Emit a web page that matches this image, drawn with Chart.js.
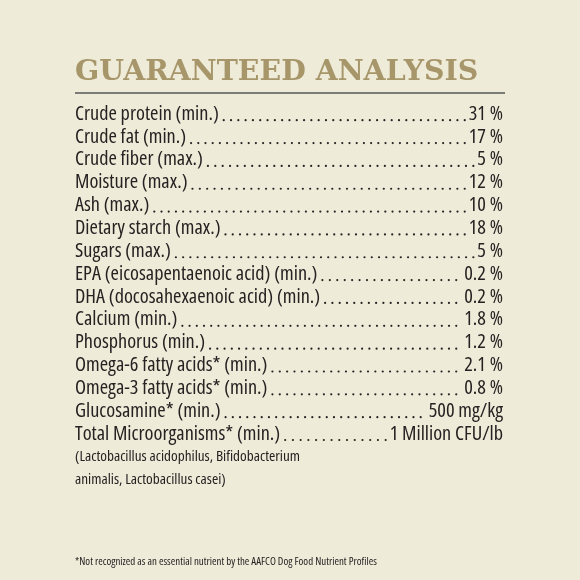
<!DOCTYPE html>
<html lang="en">
<head>
<meta charset="UTF-8">
<title>Guaranteed Analysis</title>
<script src="https://cdn.jsdelivr.net/npm/chart.js@4.4.1/dist/chart.umd.min.js"></script>
<style>
body {
margin: 0;
padding: 0;
background-color: #efebd9;
}
canvas {
display: block;
}
</style>
</head>
<body>
<canvas id="gaChart" width="580" height="580"></canvas>
<script>
// Nutrients, top to bottom (last two rows are the note under Total Microorganisms)
const nutrients = [
'Crude protein (min.)',
'Crude fat (min.)',
'Crude fiber (max.)',
'Moisture (max.)',
'Ash (max.)',
'Dietary starch (max.)',
'Sugars (max.)',
'EPA (eicosapentaenoic acid) (min.)',
'DHA (docosahexaenoic acid) (min.)',
'Calcium (min.)',
'Phosphorus (min.)',
'Omega-6 fatty acids* (min.)',
'Omega-3 fatty acids* (min.)',
'Glucosamine* (min.)',
'Total Microorganisms* (min.)',
'(Lactobacillus acidophilus, Bifidobacterium',
'animalis, Lactobacillus casei)'
];
const amounts = [31, 17, 5, 12, 10, 18, 5, 0.2, 0.2, 1.8, 1.2, 2.1, 0.8, 500, 1, null, null];
const units = ['%', '%', '%', '%', '%', '%', '%', '%', '%', '%', '%', '%', '%', 'mg/kg', 'Million CFU/lb', '', ''];
const amountLabels = amounts.map((v, i) => v === null ? '' : v + ' ' + units[i]);

const ink = '#262222';
// Open Sans has a width axis, 'condensed' gives the narrow cut
const rowFont = {family: '"Open Sans", sans-serif', weight: 'condensed', size: 20.3};
const noteFont = {family: '"Open Sans", sans-serif', weight: 'condensed', size: 15.2};

// rule under the title and dotted leaders between name and amount
const leaders = {
id: 'leaders',
afterDraw(chart) {
const ctx = chart.ctx;
const left = chart.scales.y;
const right = chart.scales.y2;
const x1 = right.right;
ctx.save();
ctx.strokeStyle = '#7b7b78';
ctx.lineWidth = 2;
ctx.beginPath();
ctx.moveTo(75, chart.titleBlock.bottom - 9.6);
ctx.lineTo(505, chart.titleBlock.bottom - 9.6);
ctx.stroke();

ctx.font = 'condensed ' + rowFont.size + 'px ' + rowFont.family;
ctx.fillStyle = ink;
nutrients.forEach((name, i) => {
if (amounts[i] === null) return;
const y = left.getPixelForValue(i) + 6.2;
const x0 = left.left + ctx.measureText(name).width + 5;
// decimals and mg/kg sit a space away from the leader
const gap = /\.|mg/.test(amountLabels[i]) ? 8 : 4;
const xEnd = x1 - ctx.measureText(amountLabels[i]).width - gap;
const n = Math.floor((xEnd - x0) / 7.2);
const step = (xEnd - x0) / n;
for (let k = 0; k <= n; k++) {
ctx.beginPath();
ctx.arc(x0 + k * step, y, 1.1, 0, Math.PI * 2);
ctx.fill();
}
});
ctx.restore();
}
};

new Chart(document.getElementById('gaChart'), {
type: 'bar',
data: {
labels: nutrients,
datasets: [{
data: amounts,
backgroundColor: 'transparent'
}]
},
options: {
indexAxis: 'y',
responsive: false,
animation: false,
layout: {padding: {left: 75, right: 77, top: 0, bottom: 0}},
plugins: {
legend: {display: false},
tooltip: {enabled: false},
title: {
display: true,
text: 'GUARANTEED ANALYSIS',
align: 'start',
color: '#a6966a',
font: {family: '"DejaVu Serif", serif', size: 28.4, weight: 'bold', lineHeight: 1.2},
padding: {top: 56, bottom: 12.5}
},
subtitle: {
display: true,
position: 'bottom',
text: '*Not recognized as an essential nutrient by the AAFCO Dog Food Nutrient Profiles',
align: 'start',
color: ink,
font: {family: '"Open Sans", sans-serif', weight: 'condensed', size: 10.9, lineHeight: 1.2},
padding: {top: 64.5, bottom: 11.5}
}
},
scales: {
x: {display: false},
y: {
position: 'left',
grid: {display: false, drawTicks: false},
border: {display: false},
ticks: {
autoSkip: false,
mirror: true,
padding: 0,
color: ink,
font: (c) => c.index >= 15 ? noteFont : rowFont
}
},
y2: {
type: 'category',
position: 'right',
labels: amountLabels,
offset: true,
grid: {display: false, drawTicks: false},
border: {display: false},
ticks: {
autoSkip: false,
mirror: true,
padding: 0,
color: ink,
font: rowFont
}
}
}
},
plugins: [leaders]
});
</script>
</body>
</html>
